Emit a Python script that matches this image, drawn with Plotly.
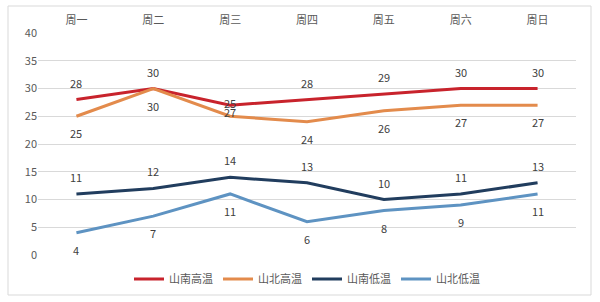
import plotly.graph_objects as go

days = ["周一", "周二", "周三", "周四", "周五", "周六", "周日"]
south_high = [28, 30, 27, 28, 29, 30, 30]
north_high = [25, 30, 25, 24, 26, 27, 27]
south_low = [11, 12, 14, 13, 10, 11, 13]
north_low = [4, 7, 11, 6, 8, 9, 11]
series_names = ["山南高温", "山北高温", "山南低温", "山北低温"]
y_ticks = [0, 5, 10, 15, 20, 25, 30, 35, 40]

colors = ["#C8232C", "#E38B4C", "#213D5E", "#5E93C2"]
# label vertical offsets (px, positive = up)
offsets = [
    [17, 17, -7, 17, 17, 17, 17],
    [-17, -17, 13, -17, -17, -17, -17],
    [17, 17, 17, 17, 17, 17, 17],
    [-17, -17, -17, -17, -17, -17, -17],
]

fig = go.Figure()
annotations = []
for name, vals, col, offs in zip(series_names, [south_high, north_high, south_low, north_low], colors, offsets):
    fig.add_trace(go.Scatter(x=days, y=vals, name=name, mode="lines",
                             line=dict(color=col, width=3)))
    for d, v, o in zip(days, vals, offs):
        annotations.append(dict(x=d, y=v, text=str(v), showarrow=False, yshift=o,
                                font=dict(size=11, color="#404040")))

W, H = 600, 302
ml, mr, mt, mb = 38, 24, 33, 47
pw, ph = W - ml - mr, H - mt - mb
def px(x): return (x - ml) / pw
def py(y): return (H - mb - y) / ph

fig.update_layout(
    width=W, height=H,
    margin=dict(l=ml, r=mr, t=mt, b=mb, autoexpand=False),
    paper_bgcolor="white", plot_bgcolor="white",
    font=dict(family="Noto Sans CJK SC, DejaVu Sans", size=11, color="#595959"),
    xaxis=dict(side="top", showgrid=False, showline=False, ticks="",
               range=[-0.5, 6.5], ticklabelstandoff=6,
               tickfont=dict(size=11, color="#595959")),
    yaxis=dict(range=[0, 40], tickvals=y_ticks, showgrid=True, gridcolor="#D9D9D9",
               gridwidth=1, zeroline=False, showline=False, ticks="",
               tickfont=dict(size=11, color="#595959")),
    legend=dict(orientation="h", x=0.5, xanchor="center", yref="container",
                y=1 - 279 / H, yanchor="middle",
                font=dict(size=11, color="#595959"), tracegroupgap=0),
    annotations=annotations,
    shapes=[dict(type="rect", xref="paper", yref="paper",
                 x0=px(8), x1=px(591), y0=py(6), y1=py(295),
                 line=dict(color="#D9D9D9", width=1), layer="below")],
    showlegend=True,
)
fig.write_html("out.html")
